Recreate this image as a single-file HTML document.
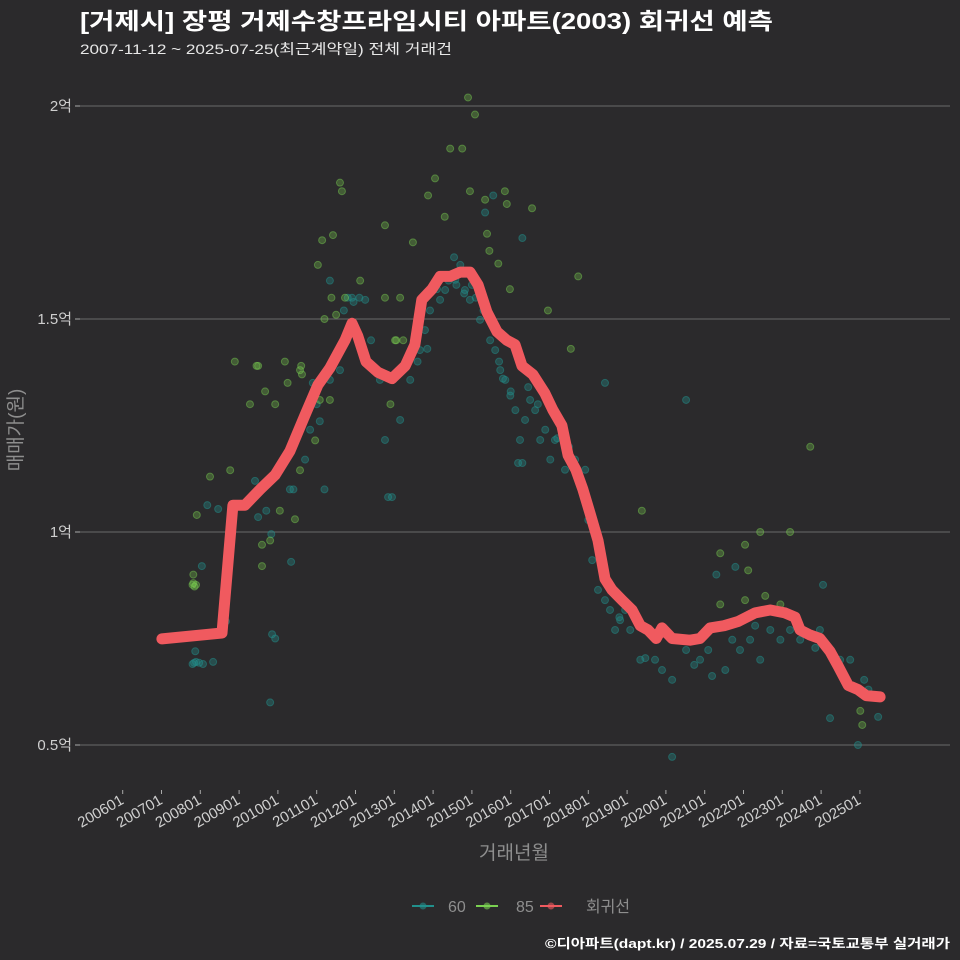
<!DOCTYPE html>
<html><head><meta charset="utf-8"><style>
html,body{margin:0;padding:0;background:#2b2a2c;}
svg{display:block;font-family:"Liberation Sans","Noto Sans CJK KR",sans-serif;}
</style></head><body>
<svg id="chart" width="960" height="960" viewBox="0 0 960 960" xmlns="http://www.w3.org/2000/svg">
<rect x="0" y="0" width="960" height="960" fill="#2b2a2c"/>
<text x="80" y="29" fill="#ffffff" font-size="23" font-weight="bold" textLength="693" lengthAdjust="spacingAndGlyphs">[거제시] 장평 거제수창프라임시티 아파트(2003) 회귀선 예측</text>
<text x="80" y="54" fill="#e8e8e8" font-size="14" textLength="372" lengthAdjust="spacingAndGlyphs">2007-11-12 ~ 2025-07-25(최근계약일) 전체 거래건</text>
<g id="grid"></g>
<g id="ylabels"></g>
<g id="xaxis"></g>
<g id="points"></g>
<g id="line"></g>
<text transform="translate(22,430) rotate(-90)" text-anchor="middle" fill="#8e8e8e" font-size="19">매매가(원)</text>
<text x="514" y="859" text-anchor="middle" fill="#8e8e8e" font-size="19">거래년월</text>
<g>
<g><line x1="412" y1="906" x2="434" y2="906" stroke="#21908c" stroke-width="2"/><circle cx="423" cy="906" r="3.5" fill="#21908c" opacity="0.6"/><text x="448" y="912" fill="#8e8e8e" font-size="16">60</text></g>
<g><line x1="476" y1="906" x2="498" y2="906" stroke="#7ad151" stroke-width="2"/><circle cx="487" cy="906" r="3.5" fill="#7ad151" opacity="0.6"/><text x="516" y="912" fill="#8e8e8e" font-size="16">85</text></g>
<g><line x1="540" y1="906" x2="562" y2="906" stroke="#f05a5f" stroke-width="2"/><circle cx="551" cy="906" r="3.5" fill="#f05a5f" opacity="0.6"/><text x="586" y="912" fill="#8e8e8e" font-size="16" textLength="44" lengthAdjust="spacingAndGlyphs">회귀선</text></g>
</g>
<text x="950" y="948" text-anchor="end" fill="#ffffff" font-size="13" font-weight="bold" textLength="405" lengthAdjust="spacingAndGlyphs">©디아파트(dapt.kr) / 2025.07.29 / 자료=국토교통부 실거래가</text>
</svg>
<script>
const yTicks=[0.5,1,1.5,2];
const yTickLabels=["0.5억","1억","1.5억","2억"];
const xTickYears=[2006,2007,2008,2009,2010,2011,2012,2013,2014,2015,2016,2017,2018,2019,2020,2021,2022,2023,2024,2025];
const xTickLabels=["200601","200701","200801","200901","201001","201101","201201","201301","201401","201501","201601","201701","201801","201901","202001","202101","202201","202301","202401","202501"];
const lineYears=[2007.01,2008.56,2008.84,2009.15,2009.54,2009.93,2010.31,2010.70,2011.03,2011.34,2011.73,2011.91,2012.06,2012.27,2012.58,2012.94,2013.28,2013.53,2013.71,2013.97,2014.18,2014.44,2014.70,2014.95,2015.16,2015.39,2015.65,2015.90,2016.11,2016.29,2016.57,2016.88,2017.09,2017.32,2017.48,2017.68,2017.86,2018.04,2018.25,2018.43,2018.61,2018.87,2019.13,2019.34,2019.54,2019.75,2019.90,2020.16,2020.62,2020.88,2021.14,2021.50,2021.86,2022.30,2022.69,2023.07,2023.33,2023.46,2023.72,2023.97,2024.23,2024.44,2024.70,2024.95,2025.16,2025.52];
const lineValues=[0.749,0.763,1.063,1.063,1.10,1.134,1.19,1.275,1.345,1.385,1.45,1.49,1.46,1.40,1.375,1.36,1.39,1.44,1.545,1.57,1.60,1.60,1.61,1.61,1.58,1.516,1.47,1.45,1.44,1.39,1.37,1.326,1.286,1.25,1.18,1.146,1.10,1.045,0.98,0.89,0.864,0.84,0.817,0.78,0.77,0.75,0.775,0.75,0.746,0.75,0.775,0.78,0.79,0.81,0.817,0.81,0.80,0.77,0.758,0.75,0.72,0.685,0.64,0.63,0.616,0.613];
const g85Years=[2007.80,2007.82,2007.85,2007.89,2007.91,2007.82,2008.25,2008.89,2009.28,2009.49,2009.67,2009.93,2010.18,2010.57,2011.03,2011.14,2011.42,2011.60,2011.65,2011.73,2012.12,2012.76,2012.76,2013.15,2013.02,2013.23,2013.48,2013.87,2014.05,2014.44,2014.75,2014.90,2015.08,2014.95,2015.34,2015.39,2015.68,2015.85,2015.90,2015.98,2016.55,2016.96,2017.74,2017.55,2019.38,2021.40,2022.12,2022.04,2022.43,2022.56,2023.20,2023.72,2025.06,2025.01,2021.40,2022.04,2022.95,2008.77,2009.59,2009.80,2010.05,2010.57,2010.96,2011.08,2011.34,2010.44,2009.59,2010.60,2010.62,2011.20,2011.50,2012.90,2013.05,2014.30,2015.45,2011.38,2010.25,2009.45];
const g85Values=[0.876,0.88,0.872,0.876,1.04,0.90,1.13,1.40,1.30,1.39,1.33,1.30,1.40,1.38,1.627,1.685,1.697,1.82,1.80,1.55,1.59,1.72,1.55,1.55,1.45,1.45,1.68,1.79,1.83,1.90,1.90,2.02,1.98,1.80,1.78,1.70,1.63,1.80,1.77,1.57,1.76,1.52,1.60,1.43,1.05,0.95,0.91,0.97,1.00,0.85,1.00,1.20,0.547,0.58,0.83,0.84,0.83,1.145,0.97,0.98,1.05,1.145,1.215,1.31,1.31,1.03,0.92,1.39,1.37,1.50,1.51,1.30,1.45,1.74,1.66,1.55,1.35,1.39];
const g60Years=[2007.80,2007.84,2007.89,2007.97,2008.07,2008.33,2007.87,2008.04,2008.66,2008.18,2008.46,2009.49,2009.83,2010.34,2009.80,2009.85,2009.93,2009.41,2010.05,2010.31,2010.70,2010.83,2011.08,2011.34,2011.60,2011.86,2011.34,2011.91,2012.25,2012.63,2012.76,2012.84,2012.94,2013.15,2013.41,2013.66,2013.79,2013.92,2014.18,2014.31,2014.54,2014.57,2014.70,2014.82,2014.95,2015.21,2015.47,2015.55,2015.34,2015.60,2015.73,2015.86,2015.99,2016.12,2016.19,2016.30,2016.24,2016.30,2016.37,2016.50,2016.63,2016.76,2016.89,2017.02,2017.14,2017.27,2017.40,2017.66,2017.92,2018.00,2018.10,2018.25,2018.43,2018.43,2018.56,2018.69,2018.82,2018.95,2019.08,2019.34,2019.72,2019.90,2020.16,2020.16,2020.52,2020.52,2020.73,2020.88,2021.09,2021.19,2021.30,2021.40,2021.53,2021.71,2021.79,2021.91,2022.17,2022.43,2022.69,2022.95,2023.20,2023.46,2023.85,2023.97,2024.05,2024.23,2024.49,2024.62,2024.75,2024.95,2025.11,2025.22,2025.47,2019.47,2011.70,2011.80,2011.95,2012.10,2012.40,2014.00,2014.10,2014.40,2014.60,2014.80,2015.00,2015.10,2015.30,2015.70,2015.80,2016.00,2016.45,2016.70,2017.20,2017.50,2010.90,2011.00,2011.20,2010.40,2009.70,2013.60,2013.85,2018.80,2022.30,2023.60];
const g60Values=[0.69,0.693,0.695,0.693,0.69,0.695,0.72,0.92,0.79,1.063,1.054,1.035,0.995,0.93,0.60,0.76,0.75,1.12,1.145,1.10,1.17,1.24,1.26,1.357,1.38,1.474,1.59,1.55,1.545,1.357,1.216,1.082,1.082,1.263,1.357,1.427,1.474,1.52,1.545,1.568,1.645,1.592,1.627,1.568,1.545,1.498,1.45,1.79,1.75,1.427,1.38,1.357,1.32,1.286,1.162,1.162,1.216,1.69,1.263,1.31,1.286,1.216,1.24,1.17,1.216,1.263,1.146,1.17,1.146,1.028,0.934,0.864,1.35,0.84,0.817,0.77,0.793,0.817,0.77,0.70,0.70,0.676,0.472,0.653,0.723,1.31,0.688,0.70,0.723,0.662,0.90,0.78,0.676,0.747,0.918,0.723,0.747,0.70,0.77,0.747,0.77,0.747,0.728,0.77,0.876,0.563,0.70,0.653,0.70,0.50,0.653,0.63,0.566,0.704,1.52,1.55,1.54,1.55,1.45,1.58,1.57,1.59,1.58,1.56,1.58,1.55,1.52,1.40,1.36,1.33,1.34,1.30,1.22,1.20,1.35,1.30,1.10,1.10,1.05,1.40,1.43,0.80,0.78,0.76];

const NS='http://www.w3.org/2000/svg';
function xS(yr){return 122.7+(yr-2006)*38.8;}
function yS(v){return 532-(v-1)*426;}
function mk(tag,attrs,parent){const e=document.createElementNS(NS,tag);for(const k in attrs)e.setAttribute(k,attrs[k]);parent.appendChild(e);return e;}

const grid=document.getElementById('grid'),yl=document.getElementById('ylabels');
yTicks.forEach((v,i)=>{
  const l=mk('line',{x1:80,x2:950,y1:yS(v),y2:yS(v),stroke:'#6a6a6a','stroke-width':1},grid);
  
  
  mk('line',{x1:75,x2:80,y1:yS(v),y2:yS(v),stroke:'#aaa','stroke-width':1},yl);
  const t=mk('text',{x:72,y:yS(v)+5,'text-anchor':'end',fill:'#cfcfcf','font-size':15},yl);
  t.textContent=yTickLabels[i];
  
  
});
const xa=document.getElementById('xaxis');
xTickYears.forEach((yr,i)=>{
  const x=xS(yr);
  mk('line',{x1:x,x2:x,y1:790,y2:794,stroke:'#aaa','stroke-width':1},xa);
  const t=mk('text',{transform:`translate(${x+2},803) rotate(-30)`,'text-anchor':'end',fill:'#d0d0d0','font-size':15},xa);
  t.textContent=xTickLabels[i];
  
  
});
const pts=document.getElementById('points');
g60Years.forEach((yr,i)=>{
  const c=mk('circle',{cx:xS(yr),cy:yS(g60Values[i]),r:3.5,fill:'#21908c','fill-opacity':0.35,stroke:'#21908c','stroke-opacity':0.5},pts);
  
  
});
g85Years.forEach((yr,i)=>{
  const c=mk('circle',{cx:xS(yr),cy:yS(g85Values[i]),r:3.5,fill:'#7ad151','fill-opacity':0.3,stroke:'#7ad151','stroke-opacity':0.45},pts);
  
  
});
const d=lineYears.map((yr,i)=>(i?'L':'M')+xS(yr).toFixed(1)+','+yS(lineValues[i]).toFixed(1)).join(' ');
const p=mk('path',{d:d,fill:'none',stroke:'#f05a5f','stroke-width':11,'stroke-linejoin':'round','stroke-linecap':'round'},document.getElementById('line'));


</script>
</body></html>
